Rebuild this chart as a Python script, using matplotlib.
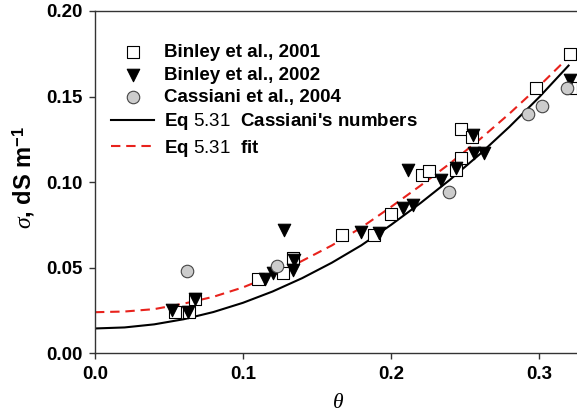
import numpy as np
import matplotlib
matplotlib.use("Agg")
import matplotlib.pyplot as plt

plt.rcParams['font.family'] = ['Liberation Sans', 'DejaVu Sans']
plt.rcParams['mathtext.fontset'] = 'custom'
plt.rcParams['mathtext.rm'] = 'Liberation Sans'
plt.rcParams['mathtext.bf'] = 'Liberation Sans:bold'
plt.rcParams['mathtext.it'] = 'Liberation Serif:italic'

# Binley et al., 2001 (open squares)
binley01_theta = [0.054, 0.0636, 0.0676, 0.110, 0.127, 0.1336, 0.167, 0.1885, 0.1997,
                  0.2207, 0.2259, 0.244, 0.247, 0.2473, 0.2545, 0.298, 0.3214, 0.321]
binley01_sigma = [0.0243, 0.0243, 0.0315, 0.0434, 0.047, 0.0555, 0.069, 0.069, 0.0814,
                  0.104, 0.1067, 0.107, 0.1139, 0.1308, 0.1265, 0.155, 0.1548, 0.1747]

# Binley et al., 2002 (filled triangles)
binley02_theta = [0.0518, 0.063, 0.0676, 0.1149, 0.1205, 0.128, 0.134, 0.1345, 0.1795,
                  0.192, 0.2084, 0.2151, 0.2117, 0.234, 0.2437, 0.2557, 0.256, 0.2628, 0.321]
binley02_sigma = [0.0253, 0.0243, 0.0315, 0.0432, 0.0467, 0.072, 0.0487, 0.0545, 0.071,
                  0.070, 0.0847, 0.0866, 0.107, 0.101, 0.108, 0.1275, 0.1168, 0.1168, 0.1596]

# Cassiani et al., 2004 (grey circles)
cassiani_theta = [0.062, 0.1227, 0.2392, 0.2928, 0.3023, 0.3187]
cassiani_sigma = [0.0483, 0.0512, 0.0944, 0.1396, 0.1445, 0.1548]

# Eq 5.31 curves
curve_theta = [0.0, 0.02, 0.04, 0.06, 0.08, 0.10, 0.12, 0.14, 0.16,
               0.18, 0.20, 0.22, 0.24, 0.26, 0.28, 0.30, 0.32]
eq_cassiani = [0.0145, 0.0151, 0.0169, 0.0199, 0.0241, 0.0295, 0.0361, 0.0439, 0.0529,
               0.0631, 0.0750, 0.0878, 0.1015, 0.1163, 0.1323, 0.1495, 0.1681]
eq_fit = [0.0240, 0.0244, 0.0258, 0.0290, 0.0330, 0.0385, 0.0455, 0.0540, 0.0630,
          0.0735, 0.0855, 0.0980, 0.1110, 0.1250, 0.1400, 0.1560, 0.1730]

fig = plt.figure(figsize=(5.77, 4.13), dpi=100)
ax = fig.add_axes([0.1646, 0.1446, 0.8354, 0.8288])

ax.plot(curve_theta, eq_cassiani, color='black', lw=1.5, zorder=2,
        label="Eq $\\mathrm{5.31}$  Cassiani's numbers")
ax.plot(curve_theta, eq_fit, color='#e8221c', lw=1.5, ls=(0, (4.5, 2.8)), zorder=2,
        label="Eq $\\mathrm{5.31}$  fit")

ax.scatter(binley01_theta, binley01_sigma, marker='s', s=8.5**2, facecolor='white',
           edgecolor='black', linewidths=0.8, zorder=3, label='Binley et al., 2001')
ax.scatter(binley02_theta, binley02_sigma, marker='v', s=9**2, facecolor='black',
           edgecolor='black', linewidths=0.8, zorder=4, label='Binley et al., 2002')
ax.scatter(cassiani_theta, cassiani_sigma, marker='o', s=9**2, facecolor='#cccccc',
           edgecolor='#444444', linewidths=0.8, zorder=5, label='Cassiani et al., 2004')

ax.set_xlim(0, 0.3257)
ax.set_ylim(0, 0.20)
ax.set_xticks([0.0, 0.1, 0.2, 0.3])
ax.set_xticklabels(['0.0', '0.1', '0.2', '0.3'])
ax.set_yticks([0.0, 0.05, 0.10, 0.15, 0.20])
ax.set_yticklabels(['0.00', '0.05', '0.10', '0.15', '0.20'])
for lab in ax.get_xticklabels() + ax.get_yticklabels():
    lab.set_fontweight('bold')
    lab.set_fontsize(13.5)
ax.tick_params(direction='out', length=4, width=1, color='#333333', pad=5)

ax.spines['right'].set_visible(False)
for s in ['left', 'bottom', 'top']:
    ax.spines[s].set_color('#333333')
    ax.spines[s].set_linewidth(1)

ax.set_xlabel(r'$\theta$', fontsize=15.5)
ax.xaxis.set_label_coords(0.504, -0.114)
ax.set_ylabel(r'$\sigma$, dS m$^{\mathbf{-1}}$', fontsize=17, fontweight='bold')
ax.yaxis.set_label_coords(-0.12, 0.514)

handles, labels = ax.get_legend_handles_labels()
order = [2, 3, 4, 0, 1]
leg = ax.legend([handles[i] for i in order], [labels[i] for i in order],
                loc='upper left', bbox_to_anchor=(0.018, 0.925), frameon=False,
                prop={'weight': 'bold', 'size': 13.5}, handlelength=2.3,
                handletextpad=0.5, labelspacing=0.28, borderaxespad=0)

fig.savefig('out.png', dpi=100)
